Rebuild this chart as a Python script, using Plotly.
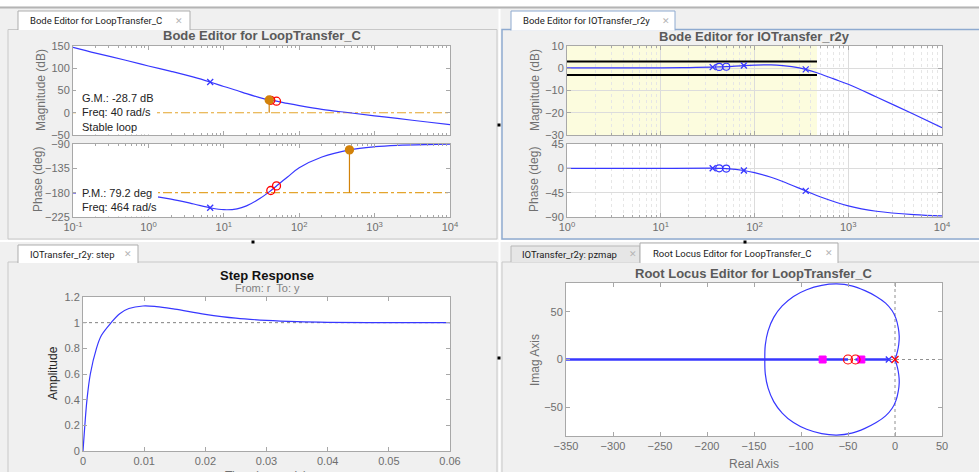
import plotly.graph_objects as go

W, H = 979, 472
def X(px): return px / W
def Y(py): return 1 - py / H

# ---------------- data ----------------
# Bode of LoopTransfer_C (open loop)
lt_freq = [0.1, 0.2, 0.5, 1, 2, 4, 6.6, 10, 15, 20, 30, 40, 50, 70, 100, 200, 464, 1000, 2000, 5000, 10000]
lt_mag = [147, 134, 118, 105, 93, 80, 69, 59, 50, 43, 34, 29, 26, 21, 16, 7.5, 0, -6.8, -12.8, -20.8, -26.7]
lt_ph_freq = [0.1, 0.3, 1, 2, 4, 6.6, 10, 15, 20, 30, 40, 50, 70, 100, 200, 464, 1000, 2000, 5000, 10000]
lt_phase = [-180.6, -181.9, -186, -192, -201, -208, -211.5, -210, -204.5, -191, -178.5, -167.5, -151, -134, -114, -100.8, -95, -92.4, -91, -90.5]
lt_pole_freq = [6.6]
lt_pole_mag = [69]
lt_pole_phase = [-208]
lt_zero_freq = [42, 50]
lt_zero_mag = [28, 26]
lt_zero_phase = [-176, -167.5]
gm_db = 28.7
gm_freq = 40
pm_deg = 79.2
pm_freq = 464
ref_db = 0
ref_deg = -180

# Bode of IOTransfer_r2y (closed loop)
cl_freq = [1, 10, 20, 35.8, 42, 50, 77, 100, 150, 200, 250, 352, 464, 700, 1000, 2000, 5000, 10000]
cl_mag = [0.2, 0.2, 0.3, 0.5, 0.6, 0.7, 1.2, 1.4, 1.5, 1.2, 0.7, -0.5, -2.0, -4.8, -7.2, -12.9, -20.7, -26.7]
cl_ph_freq = [1, 10, 35.8, 42, 50, 77, 100, 150, 200, 352, 500, 1000, 2000, 5000, 10000]
cl_phase = [0, 0, 0.3, 0, -0.5, -4, -8, -16.5, -24.3, -41.7, -52.5, -69.4, -79.4, -85.7, -87.9]
cl_pole_freq = [35.8, 77, 352]
cl_pole_mag = [0.5, 1.2, -0.5]
cl_pole_phase = [0.3, -4, -41.7]
cl_zero_freq = [42, 50]
cl_zero_mag = [0.6, 0.7]
cl_zero_phase = [0, -0.5]
bound_freq = [1, 464]
bound_upper = 3
bound_lower = -3
region_db = [-30, 10]

# Step response
step_t = [0, 0.0003, 0.00065, 0.0012, 0.0022, 0.003, 0.0046, 0.006, 0.0075, 0.0098, 0.012, 0.015, 0.02, 0.025, 0.03, 0.035, 0.04, 0.05, 0.06]
step_y = [0, 0.2, 0.4, 0.6, 0.8, 0.9, 1.0, 1.07, 1.11, 1.13, 1.125, 1.105, 1.065, 1.035, 1.018, 1.008, 1.003, 1.0, 1.0]
step_final = 1.0

# Root locus (upper half of the complex branch; lower half is its conjugate)
rl_re = [0, 2.5, 4, 4.5, 3.5, 1, -3, -10, -20, -32, -46, -62, -78, -94, -108, -120, -129, -135, -138, -138.5]
rl_im = [0, 8, 16, 24, 33, 43, 51, 59, 66, 72, 77, 79, 77.5, 73, 66, 56, 44, 30, 15, 0]
rl_real_seg1 = [-352, -50]
rl_real_seg2 = [-42, -6.6]
rl_cl_poles = [-352, -77, -35.8]
rl_zeros = [-50, -42]
rl_plant_pole = [-6.6]
rl_comp_pole = [0]

# ---------------- style ----------------
FONT = "Liberation Sans, Arial, sans-serif"
BLUE = "rgb(55,55,255)"
RED = "rgb(255,0,0)"
ORANGE = "rgb(210,130,10)"
ORANGE_L = "rgb(228,165,45)"
MAG = "rgb(255,0,255)"
AXC = "#a8a8a8"
TICKC = "#6e6e6e"

fig = go.Figure()

def line(x, y, xa, ya, color=BLUE, width=1.2, dash=None, shape="spline"):
    fig.add_trace(go.Scatter(x=x, y=y, mode="lines", xaxis=xa, yaxis=ya,
                             line=dict(color=color, width=width, dash=dash, shape=shape),
                             hoverinfo="skip", showlegend=False))

def marks(x, y, xa, ya, symbol, color, size=8, width=1.3, clip=True):
    fig.add_trace(go.Scatter(x=x, y=y, mode="markers", xaxis=xa, yaxis=ya, cliponaxis=clip,
                             marker=dict(symbol=symbol, size=size, color=color,
                                         line=dict(color=color, width=width)),
                             hoverinfo="skip", showlegend=False))

# --- TL magnitude
line([lt_freq[0], lt_freq[-1]], [ref_db, ref_db], "x", "y", ORANGE_L, 1.2, "dashdot", "linear")
line([gm_freq, gm_freq], [ref_db, gm_db], "x", "y", ORANGE, 1.2, None, "linear")
line(lt_freq, lt_mag, "x", "y")
marks(lt_pole_freq, lt_pole_mag, "x", "y", "x-thin", BLUE, 6)
marks(lt_zero_freq, lt_zero_mag, "x", "y", "circle-open", RED, 8)
marks([gm_freq], [gm_db], "x", "y", "circle", ORANGE, 8)
# --- TL phase
line([lt_ph_freq[0], lt_ph_freq[-1]], [ref_deg, ref_deg], "x2", "y2", ORANGE_L, 1.2, "dashdot", "linear")
line([pm_freq, pm_freq], [ref_deg, ref_deg + pm_deg], "x2", "y2", ORANGE, 1.2, None, "linear")
line(lt_ph_freq, lt_phase, "x2", "y2")
marks(lt_pole_freq, lt_pole_phase, "x2", "y2", "x-thin", BLUE, 6)
marks(lt_zero_freq, lt_zero_phase, "x2", "y2", "circle-open", RED, 8)
marks([pm_freq], [ref_deg + pm_deg], "x2", "y2", "circle", ORANGE, 8)

# --- TR magnitude
line(bound_freq, [bound_upper, bound_upper], "x3", "y3", "black", 2, None, "linear")
line(bound_freq, [bound_lower, bound_lower], "x3", "y3", "black", 2, None, "linear")
line(cl_freq, cl_mag, "x3", "y3")
marks(cl_pole_freq, cl_pole_mag, "x3", "y3", "x-thin", BLUE, 6)
marks(cl_zero_freq, cl_zero_mag, "x3", "y3", "circle-open", BLUE, 7, 1.1)
# --- TR phase
line(cl_ph_freq, cl_phase, "x4", "y4")
marks(cl_pole_freq, cl_pole_phase, "x4", "y4", "x-thin", BLUE, 6)
marks(cl_zero_freq, cl_zero_phase, "x4", "y4", "circle-open", BLUE, 7, 1.1)

# --- Step
line([step_t[0], step_t[-1]], [step_final, step_final], "x5", "y5", "#808080", 1, "dot", "linear")
line(step_t, step_y, "x5", "y5")

# --- Root locus
line(rl_real_seg1, [0, 0], "x6", "y6", BLUE, 2.4, None, "linear")
line(rl_real_seg2, [0, 0], "x6", "y6", BLUE, 2.4, None, "linear")
line(rl_re, rl_im, "x6", "y6")
line(rl_re, [-v for v in rl_im], "x6", "y6")
marks(rl_cl_poles, [0] * len(rl_cl_poles), "x6", "y6", "square", MAG, 7, 1, clip=False)
marks(rl_zeros, [0] * len(rl_zeros), "x6", "y6", "circle-open", RED, 9, 1.2)
marks(rl_plant_pole, [0], "x6", "y6", "x-thin", BLUE, 6)
marks(rl_comp_pole, [0], "x6", "y6", "x-thin", RED, 7)

# ---------------- axes ----------------
tickfont = dict(family=FONT, size=11, color=TICKC)
base = dict(showline=True, linecolor=AXC, linewidth=1, mirror="ticks", ticks="inside",
            ticklen=4, tickcolor=AXC, tickfont=tickfont, zeroline=False, showgrid=False,
            fixedrange=True, automargin=False)

minor_vals_tl = [k * 10.0 ** e for e in range(-1, 4) for k in range(2, 10)]
minor_vals_tr = [k * 10.0 ** e for e in range(0, 4) for k in range(2, 10)]
dec_tl = [0.1, 1, 10, 100, 1000, 10000]
dec_tr = [1, 10, 100, 1000, 10000]
txt_tl = ["10<sup>-1</sup>", "10<sup>0</sup>", "10<sup>1</sup>", "10<sup>2</sup>", "10<sup>3</sup>", "10<sup>4</sup>"]
txt_tr = txt_tl[1:]

def logx(dom, anchor, vals, txt, minor_vals, labels, grid):
    d = dict(base)
    d.update(type="log", range=[-1, 4] if vals[0] < 1 else [0, 4], domain=dom, anchor=anchor,
             tickmode="array", tickvals=vals, ticktext=txt, showticklabels=labels,
             minor=dict(tickmode="array", tickvals=minor_vals, ticks="inside", ticklen=2,
                        tickcolor=AXC, showgrid=grid, gridcolor="#e6e6e6", griddash="dot", gridwidth=1))
    if grid:
        d.update(showgrid=True, gridcolor="#dcdcdc", gridwidth=1)
    return d

def liny(dom, anchor, rng, vals, grid=False, text=None):
    d = dict(base)
    d.update(range=rng, domain=dom, anchor=anchor, tickmode="array", tickvals=vals)
    if text:
        d.update(ticktext=text)
    if grid:
        d.update(showgrid=True, gridcolor="#dcdcdc", gridwidth=1)
    return d

xTL = [X(73), X(450)]
xTR = [X(567), X(942)]
fig.update_layout(
    xaxis=logx(xTL, "y", dec_tl, txt_tl, minor_vals_tl, False, False),
    yaxis=liny([Y(135), Y(46)], "x", [-50, 150], [-50, 0, 50, 100, 150]),
    xaxis2=logx(xTL, "y2", dec_tl, txt_tl, minor_vals_tl, True, False),
    yaxis2=liny([Y(217), Y(144)], "x2", [-225, -90], [-225, -180, -135, -90]),
    xaxis3=logx(xTR, "y3", dec_tr, txt_tr, minor_vals_tr, False, True),
    yaxis3=liny([Y(135), Y(46)], "x3", [-30, 10], [-30, -20, -10, 0, 10], grid=True),
    xaxis4=logx(xTR, "y4", dec_tr, txt_tr, minor_vals_tr, True, True),
    yaxis4=liny([Y(217), Y(144)], "x4", [-90, 45], [-90, -45, 0, 45], grid=True),
    xaxis5=liny([X(83), X(450)], "y5", [0, 0.06], [0, 0.01, 0.02, 0.03, 0.04, 0.05, 0.06],
                text=["0", "0.01", "0.02", "0.03", "0.04", "0.05", "0.06"]),
    yaxis5=liny([Y(451), Y(297)], "x5", [0, 1.2], [0, 0.2, 0.4, 0.6, 0.8, 1.0, 1.2],
                text=["0", "0.2", "0.4", "0.6", "0.8", "1", "1.2"]),
    xaxis6=liny([X(566), X(942)], "y6", [-350, 50], [-350, -300, -250, -200, -150, -100, -50, 0, 50]),
    yaxis6=liny([Y(436), Y(283)], "x6", [-80, 80], [-50, 0, 50]),
)

# ---------------- chrome (shapes) ----------------
shapes = []
def rect(x0, y0, x1, y1, fill=None, lc=None, lw=1, layer="below"):
    shapes.append(dict(type="rect", xref="paper", yref="paper", x0=X(x0), x1=X(x1), y0=Y(y1), y1=Y(y0),
                       fillcolor=fill if fill else "rgba(0,0,0,0)",
                       line=dict(color=lc if lc else "rgba(0,0,0,0)", width=lw if lc else 0), layer=layer))

def hline(x0, x1, y, color, w=1, layer="below"):
    shapes.append(dict(type="line", xref="paper", yref="paper", x0=X(x0), x1=X(x1), y0=Y(y), y1=Y(y),
                       line=dict(color=color, width=w), layer=layer))

def vline(x, y0, y1, color, w=1, layer="below"):
    shapes.append(dict(type="line", xref="paper", yref="paper", x0=X(x), x1=X(x), y0=Y(y0), y1=Y(y1),
                       line=dict(color=color, width=w), layer=layer))

def tab(x0, x1, y0, y1, fill, border):
    p = f"M {X(x0)},{Y(y1)} L {X(x0)},{Y(y0)} L {X(x1)},{Y(y0)} L {X(x1)},{Y(y1)}"
    shapes.append(dict(type="path", xref="paper", yref="paper", path=p, fillcolor=fill,
                       line=dict(color=border, width=1), layer="below"))

rect(0, 0, 979, 6.5, fill="white")
hline(0, 979, 7.5, "#b4b4b4", 2)
# panels
rect(8, 29.5, 497, 239, lc="#c8c8c8")
rect(502, 29.5, 990, 239, lc="#8eaad0", lw=1.5)
rect(8, 262, 497, 490, lc="#c8c8c8")
rect(502, 262, 990, 490, lc="#c8c8c8")
# splitters
vline(499.5, 9, 472, "white", 2)
hline(0, 979, 241, "white", 2)
# tabs
tab(18, 190, 11, 30, "white", "#adadad")
tab(511, 675, 11, 30.5, "white", "#8eaad0")
tab(18, 138, 245, 263, "white", "#adadad")
tab(511, 640, 246, 262, "#e6e6e6", "#b8b8b8")
tab(640, 838, 243, 263, "white", "#adadad")
# splitter handles
for (cx, cy) in [(253, 242), (745, 242), (499, 125), (499, 358)]:
    rect(cx - 1.5, cy - 1.5, cx + 1.5, cy + 1.5, fill="black")
# yellow design region & reference lines
shapes.append(dict(type="rect", xref="x3", yref="y3", x0=bound_freq[0], x1=bound_freq[1],
                   y0=region_db[0], y1=region_db[1], fillcolor="rgb(252,252,222)",
                   line=dict(width=0), layer="below"))
shapes.append(dict(type="line", xref="x6", yref="y6 domain", x0=0, x1=0, y0=0, y1=1,
                   line=dict(color="#909090", width=1, dash="dot"), layer="below"))
shapes.append(dict(type="line", xref="x6 domain", yref="y6", x0=0, x1=1, y0=0, y1=0,
                   line=dict(color="#909090", width=1, dash="dot"), layer="below"))
# white margin text boxes
rect(76, 88, 156, 134.5, fill="white", layer="above")
rect(76, 183, 158, 216.5, fill="white", layer="above")
fig.update_layout(shapes=shapes)

# ---------------- text ----------------
ann = []
def text(s, x, y, size=11, color="#222", bold=False, xanchor="center", yanchor="middle", angle=0, family=FONT):
    if bold:
        s = f"<b>{s}</b>"
    ann.append(dict(text=s, x=X(x), y=Y(y), xref="paper", yref="paper", showarrow=False,
                    xanchor=xanchor, yanchor=yanchor, textangle=angle, align="left",
                    font=dict(family=family, size=size, color=color)))

TABF = "Roboto, Liberation Sans, sans-serif"
text("Bode Editor for LoopTransfer_C", 28, 20.5, 9.5, "#1a1a1a", xanchor="left", family=TABF)
text("✕", 179, 20.5, 9, "#b5b5b5")
text("Bode Editor for IOTransfer_r2y", 521, 20.5, 9.5, "#1a1a1a", xanchor="left", family=TABF)
text("✕", 666, 20.5, 9, "#b5b5b5")
text("IOTransfer_r2y: step", 28, 254, 9.5, "#1a1a1a", xanchor="left", family=TABF)
text("✕", 128, 254, 9, "#b5b5b5")
text("IOTransfer_r2y: pzmap", 520, 254.5, 9.5, "#1a1a1a", xanchor="left", family=TABF)
text("✕", 633, 254.5, 9, "#b5b5b5")
text("Root Locus Editor for LoopTransfer_C", 651, 253.5, 9.5, "#1a1a1a", xanchor="left", family=TABF)
text("✕", 829, 253.5, 9, "#b5b5b5")

text("Bode Editor for LoopTransfer_C", 262, 35, 13, "#5a5a5a", bold=True)
text("Bode Editor for IOTransfer_r2y", 754, 36, 13, "#5a5a5a", bold=True)
text("Step Response", 267, 275, 13, "#111", bold=True)
text("From: r  To: y", 267, 288, 11, "#808080")
text("Root Locus Editor for LoopTransfer_C", 754, 273, 13, "#5a5a5a", bold=True)

text("Magnitude (dB)", 41, 90, 12, "#707070", angle=-90)
text("Phase (deg)", 38, 180, 12, "#707070", angle=-90)
text("Magnitude (dB)", 535, 90, 12, "#707070", angle=-90)
text("Phase (deg)", 534, 180, 12, "#707070", angle=-90)
text("Amplitude", 53, 373, 12, "#262626", angle=-90)
text("Time (seconds)", 266, 476, 12, "#707070")
text("Imag Axis", 535, 360, 12, "#707070", angle=-90)
text("Real Axis", 754, 464, 12, "#707070")

text(f"G.M.: {-gm_db} dB<br>Freq: {gm_freq} rad/s<br>Stable loop", 80, 112.3, 11, "#222", xanchor="left")
text(f"P.M.: {pm_deg} deg<br>Freq: {pm_freq} rad/s", 80, 200, 11, "#222", xanchor="left")
fig.update_layout(annotations=ann)

fig.update_layout(width=W, height=H, margin=dict(l=0, r=0, t=0, b=0, pad=0, autoexpand=False),
                  paper_bgcolor="#f0f0f0", plot_bgcolor="white", showlegend=False,
                  font=dict(family=FONT))
fig.write_html("out.html", config={"displayModeBar": False, "staticPlot": True},
               post_script="document.body.style.margin='0';document.body.style.padding='0';document.body.style.overflow='hidden';")
